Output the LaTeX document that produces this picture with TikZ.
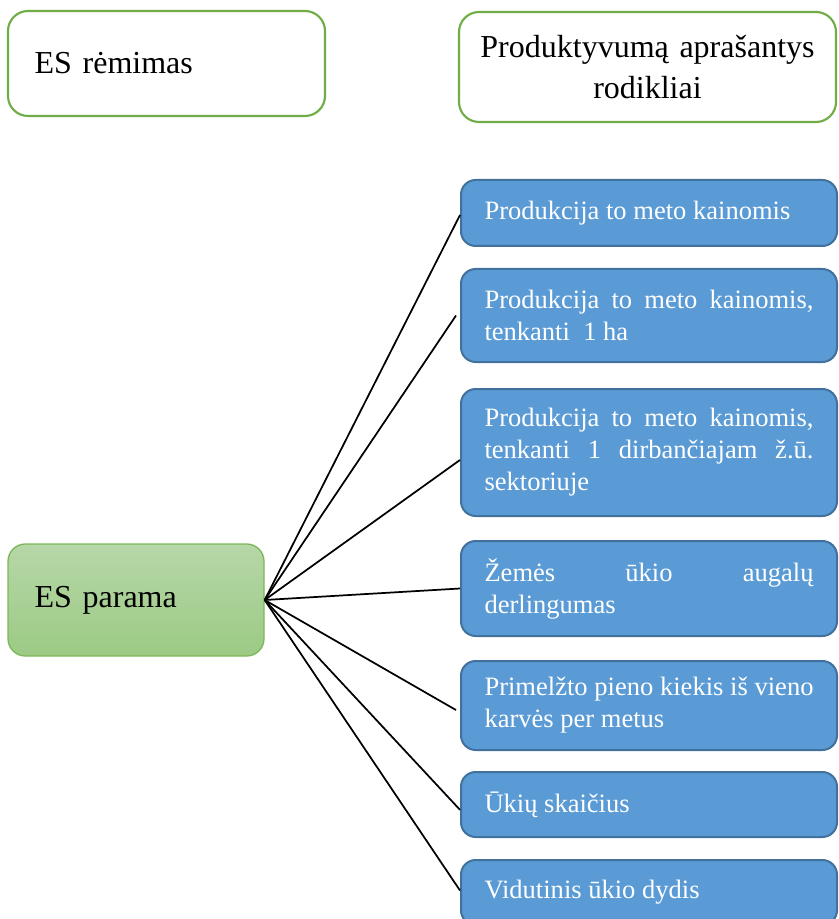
\documentclass[tikz,border=0pt]{standalone}
\usepackage{fontspec}
\setmainfont{Liberation Serif}
\begin{document}
% no hyphenation, loose justified lines allowed
\hyphenpenalty=10000\relax
\exhyphenpenalty=10000\relax
\tolerance=10000\relax
\definecolor{boxblue}{HTML}{5B9BD5}
\definecolor{boxblueedge}{HTML}{41719C}
\definecolor{framegreen}{HTML}{70AD47}
\definecolor{paramatop}{HTML}{B6D7A8}
\definecolor{paramabottom}{HTML}{9CCA84}
\definecolor{paramaedge}{HTML}{7DB75B}
\begin{tikzpicture}[x=0.75pt,y=-0.75pt,
  headbox/.style={draw=framegreen, line width=1.6pt, rounded corners=15pt, fill=white,
    font=\fontsize{24}{30.5}\selectfont},
  sourcebox/.style={draw=paramaedge, line width=1pt, rounded corners=13pt,
    top color=paramatop, bottom color=paramabottom,
    minimum width=192pt, minimum height=84pt, text width=152pt, inner xsep=20pt,
    align=left, font=\fontsize{24}{29}\selectfont},
  indbox/.style={draw=boxblueedge, line width=1.5pt, rounded corners=11pt, fill=boxblue,
    text=white, minimum width=282pt, text width=246.75pt, inner xsep=17.625pt,
    align=justify, font=\fontsize{19.9}{24}\selectfont},
  link/.style={line width=1.3pt, black}]
\useasboundingbox (0,0) rectangle (838,919);

% column headings
\node[headbox, minimum width=237.75pt, minimum height=78.75pt, text width=197.75pt,
  inner xsep=20pt, align=left] (head1) at (166.5,63.5) {ES rėmimas};
\node[headbox, minimum width=282.75pt, minimum height=82.5pt, text width=262pt,
  align=center] (head2) at (647.5,67) {Produktyvumą aprašantys\\rodikliai};

% source of support
\node[sourcebox] (parama) at (136,600) {ES parama};

% productivity indicators
\node[indbox, minimum height=49.5pt] (b1) at (649,213) {Produkcija to meto kainomis};
\node[indbox, minimum height=69.75pt] (b2) at (649,315.5) {Produkcija to meto kainomis,\linebreak tenkanti\ \ 1 ha};
\node[indbox, minimum height=95.25pt] (b3) at (649,452.5) {Produkcija to meto kainomis,\linebreak tenkanti 1 dirbančiajam ž.ū.\linebreak sektoriuje};
\node[indbox, minimum height=71.25pt] (b4) at (649,588.5) {Žemės ūkio augalų\linebreak derlingumas};
\node[indbox, minimum height=66.75pt] (b5) at (649,705.5) {Primelžto pieno kiekis iš vieno\linebreak karvės per metus};
\node[indbox, minimum height=48.75pt] (b6) at (649,804.5) {Ūkių skaičius};
\node[indbox, minimum height=48.75pt] (b7) at (649,892.5) {Vidutinis ūkio dydis};

% connectors
\draw[link] (parama.east) -- ([yshift=-1.5pt]b1.west);
\draw[link] (parama.east) -- ([xshift=-3pt]b2.west);
\draw[link] (parama.east) -- ([yshift=-5.6pt]b3.west);
\draw[link] (parama.east) -- (b4.west);
\draw[link] (parama.east) -- ([xshift=-3pt,yshift=-3.4pt]b5.west);
\draw[link] (parama.east) -- ([yshift=-4pt]b6.west);
\draw[link] (parama.east) -- ([yshift=1.5pt]b7.west);
\end{tikzpicture}
\end{document}
